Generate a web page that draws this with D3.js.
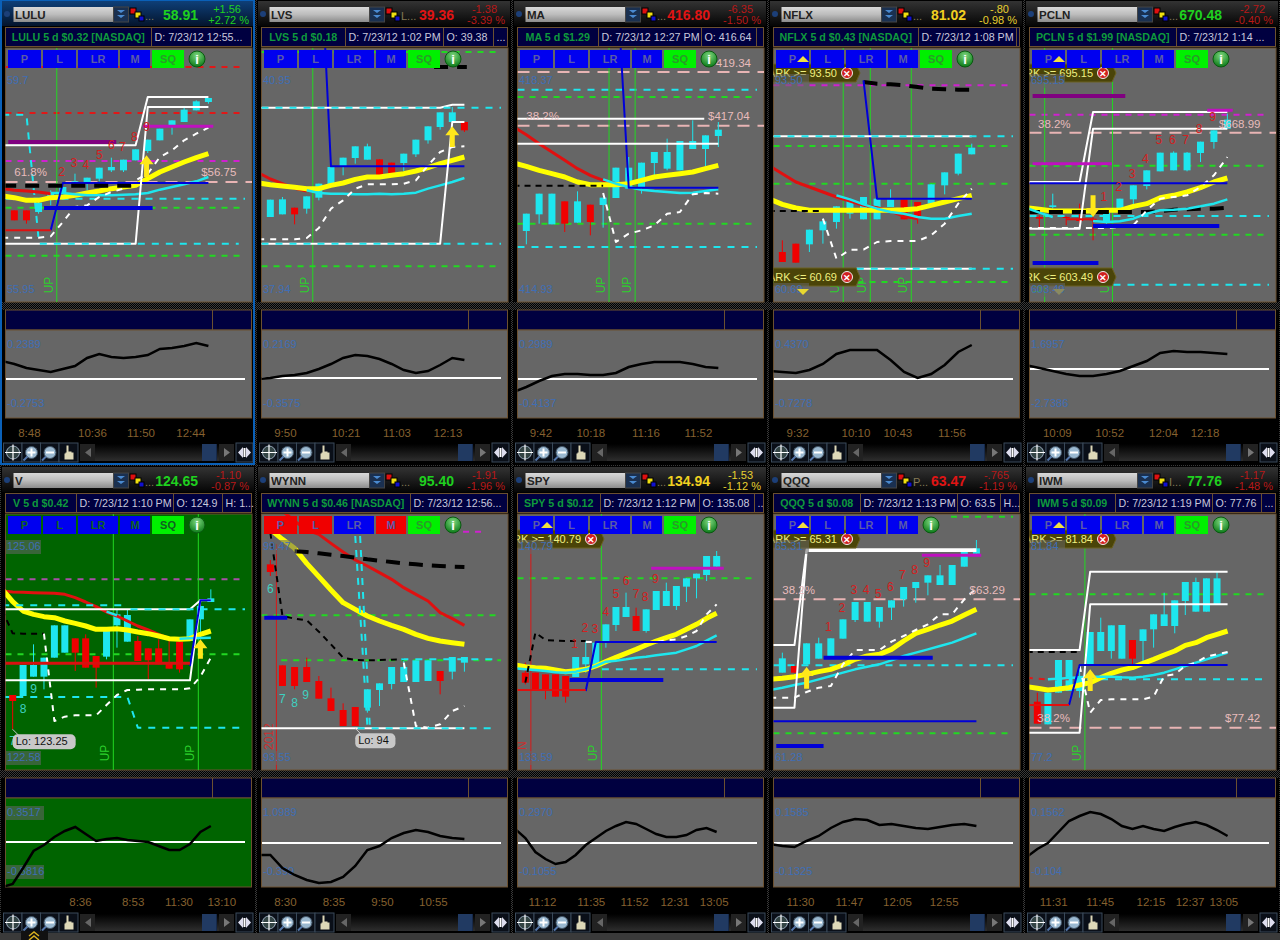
<!DOCTYPE html>
<html><head><meta charset="utf-8">
<script src="https://cdn.jsdelivr.net/npm/d3@7"></script>
<style>html,body{margin:0;padding:0;background:#000;overflow:hidden}svg{display:block;font-family:"Liberation Sans",Arial,sans-serif}</style>
</head><body><div id="c"></div>
<script>
// ---------- header data ----------
const tickers=['LULU','LVS','MA','NFLX','PCLN','V','WYNN','SPY','QQQ','IWM'];
const lastPrices=['58.91','39.36','416.80','81.02','670.48','124.65','95.40','134.94','63.47','77.76'];
const priceTone=['up','down','down','flat','up','up','up','flat','down','up'];
const changeAbs=['+1.56','-1.38','-6.35','-.80','-2.72','-1.10','-1.91','-1.53','-.765','-1.17'];
const changePct=['+2.72 %','-3.39 %','-1.50 %','-0.98 %','-0.40 %','-0.87 %','-1.96 %','-1.12 %','-1.19 %','-1.48 %'];
const changeTone=['up','down','down','flat','down','down','down','flat','down','down'];
const exchLabel=['...','L...','...','...','...','...','...','...','P...','I...'];
const titles=['LULU 5 d $0.32 [NASDAQ]','LVS 5 d $0.18','MA 5 d $1.29','NFLX 5 d $0.43 [NASDAQ]','PCLN 5 d $1.99 [NASDAQ]','V 5 d $0.42','WYNN 5 d $0.46 [NASDAQ]','SPY 5 d $0.12','QQQ 5 d $0.08','IWM 5 d $0.09'];
const infoCells=[['D: 7/23/12 12:55...'],['D: 7/23/12 1:02 PM','O: 39.38','...'],['D: 7/23/12 12:27 PM','O: 416.64',''],['D: 7/23/12 1:08 PM'],['D: 7/23/12 1:14 ...'],['D: 7/23/12 1:10 PM','O: 124.9','H: 1...'],['D: 7/23/12 12:56...'],['D: 7/23/12 1:12 PM','O: 135.08','..'],['D: 7/23/12 1:13 PM','O: 63.5','H...'],['D: 7/23/12 1:19 PM','O: 77.76','...']];
const axisTopLabels=['59.7','40.95','418.37','93.50','695.15','125.06','99.47','140.79','65.31','81.84'];
const axisBottomLabels=['55.95','37.94','414.93','60.69','603.49','122.58','93.55','133.59','61.28','77.2'];
const oscTopLabels=['0.2389','0.2169','0.2989','0.4370','1.6957','0.3517','1.0989','0.2970','0.1585','0.1562'];
const oscBottomLabels=['-0.2753','-0.3575','-0.4137','-0.7278','-2.7386','-0.5816','-0.399','-0.1055','-0.1325','-0.104'];

// ---------- time tick labels, at the bar index where each one sits ----------
const timeLabels=[['8:48','10:36','11:50','12:44'],['9:50','10:21','11:03','12:13'],['9:42','10:18','11:16','11:52'],['9:32','10:10','10:43','11:56'],['10:09','10:52','12:04','12:18'],['8:36','8:53','11:30','13:10'],['8:30','8:35','9:50','10:55'],['11:12','11:35','11:52','12:31','13:05'],['11:30','11:47','12:05','12:55'],['11:31','11:45','12:15','12:37','13:05']];
const timeBars=[[2.2,7.4,11.4,15.5],[2.2,7.2,11.4,15.6],[2.1,6,10.3,14.4],[2.1,6.4,9.5,13.5],[2.3,6.2,10.2,13.3],[7.45,12.5,16.9,21],[2.2,6.2,10.2,14.4],[2.65,7.5,11.8,15.8,19.7],[2.45,6.5,10.45,14.3],[2.5,6.9,11.7,15.4,18.6]];

// ---------- series. Prices are on each panel's own relative scale (0 = bottom of chart, 760 = top),
// read from the picture. Candles are [open,high,low,close] from bar 1; line arrays run per bar from bar 0.
const lulu_candles=[[275,275,245,245],[275,275,235,245],[270,300,265,298],[315,335,290,330],[330,345,330,345],[358,385,355,362],[357,373,335,373],[370,403,362,403],[395,433,390,405],[395,427,390,427],[425,458,425,458],[453,487,447,487],[485,520,485,520],[530,545,502,545],[540,583,540,577],[575,605,575,602],[600,612,595,612]];
const lulu_yellow=[318,313,305,305,313,315,320,327,333,340,345,350,370,390,405,420,433,445];
const lulu_cyan=[null,null,null,null,327,327,323,320,320,320,322,323,327,337,345,353,362,375];
const lulu_red=[340,335,333,330,325];
const lulu_trail=[193,193,193,193,197,240,285,290,315,330,340,365,385,435,455,485,505,523];
const lulu_cyanDash=[562,562,562,190];
const lulu_blue=[null,null,null,null,215,357,357,357,357,357,357,357,357,357,357,357,357,357];
const lulu_whiteA=[470,470,470,470,470,470,470,470,470,470,470,470,615,615,615,615,615,615];
const lulu_whiteB=[175,175,175,175,175,175,175,175,175,175,175,175,585,585,585,585,585,585];
const lulu_osc=[57,54,50,48,46,49,52,60,64,61,60,61,63,69,70,72,75,72];
const lulu_levels=[['redDash',705],['redDash',567],['magDash',423],['pinkDash',360],['cyanDash',310],['greenDash',283],['greenDash',139]];
const lulu_bars=[['blackThick',349,0,11],['redLine',215,0,4],['purple',480,0.5,9.4],['magenta',527,11.6,17.4],['blueThick',282,3.45,12.4],['cyanDash',175,3.1,19.5]];
const lulu_counts=[['2',4.9,378],['3',5.9,405],['4',6.9,398],['5',8,428],['6',9,458],['7',9.9,453],['8',10.9,483],['9',11.9,513]];
const lulu_notes=[['61.8%',1,378],['$56.75',16.4,378]];

const lvs_candles=[[255,307,255,307],[263,315,263,308],[283,283,233,263],[280,317,265,317],[313,355,305,355],[353,405,353,405],[408,433,380,433],[432,467,415,467],[427,475,427,467],[428,428,380,380],[418,418,380,380],[417,445,393,445],[443,487,435,487],[485,527,475,527],[525,569,517,569],[540,585,520,569],[540,540,510,515]];
const lvs_yellow=[357,352,348,344,340,340,350,357,368,375,375,380,385,393,403,415,425,435];
const lvs_cyan=[null,null,null,null,335,327,325,325,323,323,325,323,325,328,340,350,360,372];
const lvs_red=[388,369,355,341,333];
const lvs_trail=[188,188,188,188,192,222,280,305,340,353,353,353,355,365,410,450,465,467];
const lvs_blue=[null,null,null,null,null,1154,407,407,407,407,407,407,407,407,407,407,407,407];
const lvs_whiteA=[583,583,583,583,583,583,583,583,583,583,583,583,583,583,583,583,592,592];
const lvs_whiteB=[175,175,175,175,175,175,175,175,175,175,175,175,175,175,175,175,540,540];
const lvs_osc=[39,40,42,43,45,49,54,60,63,62,59,54,48,45,47,53,60,58];
const lvs_levels=[['greenDash',750],['greenDash',107]];
const lvs_bars=[['cyanDash',583],['cyanDash',175],['blackThick',705,14.5,17.2]];

const ma_candles=[[213,265,173,265],[263,325,235,325],[233,325,233,325],[302,302,210,235],[238,332,238,302],[292,292,200,240],[291,313,223,313],[312,403,312,403],[340,435,340,403],[345,418,325,418],[417,450,375,450],[400,490,395,450],[395,483,395,483],[459,545,459,483],[459,500,407,500],[498,540,465,517]];
const ma_yellow=[417,407,395,385,375,360,352,352,352,355,365,375,380,385,390,400,410];
const ma_cyan=[null,null,null,null,null,null,null,368,355,345,337,333,330,327,328,333,338];
const ma_red=[525,502,475,450,425,400,380,365,355,347];
const ma_trail=[null,null,null,null,null,null,null,327,180,205,215,230,265,270,323,327,325];
const ma_blue=[null,null,null,null,null,null,null,null,1010,343,343,343,343,343,343,343,343];
const ma_osc=[26,31,37,42,44,44,43,43,45,51,54,56,56,56,54,51,50];
const ma_levels=[['pinkDash',690],['pinkDash',529],['cyanDash',637],['greenDash',615],['greenDash',235],['cyanDash',165]];
const ma_bars=[['white',550,0,14.9],['white',475,0,16],['blackDash',349,0,7]];
const ma_notes=[['38.2%',1,545],['$417.04',15.2,545],['419.34',15.8,705]];

const nflx_candles=[[150,185,120,120],[175,175,118,118],[173,217,150,217],[215,250,175,242],[240,287,220,287],[265,305,250,305],[248,315,248,315],[248,310,248,310],[285,338,285,308],[308,308,248,248],[300,300,235,255],[295,353,295,353],[350,389,323,389],[385,445,380,445],[443,475,443,463]];
const nflx_yellow=[310,293,282,275,275,275,275,275,275,275,277,280,290,300,310,320];
const nflx_cyan=[null,null,null,null,null,320,308,293,280,270,265,255,250,250,258,265];
const nflx_red=[410,385,360,345,330,315,303,290,283,273,257,250];
const nflx_trail=[null,null,null,null,250,130,157,157,180,183,183,183,200,235,295,340];
const nflx_blackT=[null,null,null,null,null,null,null,660,655,653,650,645,640,638,637,637];
const nflx_blue=[null,null,null,null,null,null,null,665,310,310,310,310,310,310,310,310];
const nflx_osc=[47,46,45,48,54,64,68,68,68,58,46,40,44,53,66,73];
const nflx_levels=[['magDash',650],['greenDash',468],['greenDash',355],['greenDash',60]];
const nflx_bars=[['white',497,0,15],['cyanDash',497],['white',100,6.5,15],['cyanDash',100,6.5],['blackDash',273,0,4]];

const pcln_candles=[[255,260,225,250],[285,325,280,290],[255,257,230,252],[250,295,235,243],[250,255,185,245],[238,268,235,268],[275,310,268,310],[308,350,293,350],[348,395,338,395],[392,448,392,448],[395,452,395,448],[395,450,392,448],[447,481,420,481],[480,515,460,515],[520,565,520,547]];
const pcln_yellow=[283,278,273,273,273,273,275,275,287,295,313,320,330,343,360,372];
const pcln_cyan=[283,268,255,null,null,243,240,242,250,265,275,277,280,287,295,308];
const pcln_blackT=[270,270,270,270,270,270,270,270,270,270,272,277,278,280,280,283];
const pcln_trail=[222,222,222,222,222,222,222,225,230,275,310,315,320,345,380,435];
const pcln_whiteA=[360,360,360,360,360,570,570,570,570,570,570,570,570,570,570,570];
const pcln_whiteB=[220,220,220,220,220,520,520,520,520,520,520,520,520,520,520,520];
const pcln_osc=[53,50,47,44,42,42,44,47,52,57,65,67,66,66,65,64];
const pcln_levels=[['magDash',562],['pinkDash',508],['greenDash',409],['greenDash',202],['cyanDash',258],['cyanDash',52]];
const pcln_bars=[['blue',356,0,15],['blueThick',228,5,14.4],['blueThick',117,0.5,5.4],['purple',618,0.5,7.4],['magenta',415,0.5,6.4],['magenta',575,13.5,15.4],['redLine',248,3,5]];
const pcln_counts=[['1',5.8,303],['2',6.9,333],['3',7.9,373],['4',8.9,418],['5',9.9,473],['6',10.9,475],['7',11.9,473],['8',12.9,508],['9',13.9,543]];
const pcln_notes=[['38.2%',0.9,523],['$668.99',14.37,523]];

const v_candles=[[225,225,122,207],[222,315,222,315],[280,377,280,315],[280,337,242,337],[337,434,337,434],[352,434,352,434],[395,395,297,352],[395,407,307,307],[342,342,247,307],[340,417,332,417],[434,480,367,467],[385,480,385,465],[387,402,327,327],[365,365,272,329],[365,392,317,317],[322,387,304,304],[385,385,292,302],[387,452,387,452],[452,492,412,492],[504,542,504,515]];
const v_yellow=[542,505,477,467,460,457,447,440,432,422,422,424,420,414,409,402,394,392,394,407,417];
const v_cyan=[null,null,null,null,null,null,null,null,null,null,475,464,null,null,null,null,null,394,395,396,397];
const v_red=[537,534,533,532,531,530,527,517,504,490,474,462,447,432,420,407,395,390];
const v_blackDash=[480,410,409,409,409];
const v_trail=[null,null,null,null,409,147,160,164,164,164,195,225,240,241,242,242,242,242,245,280,337];
const v_cyanDash=[219,219,219,219,219,219,219,219,219,219,219,219,219,127,127,127,127,127,127,127,127,127,127,127];
const v_blue=[null,null,null,null,null,null,null,null,null,null,null,null,null,null,null,null,null,null,312,509,509];
const v_whiteA=[482,482,482,482,482,482,482,482,482,482,482,482,482,482,482,482,482,482,482,509,509];
const v_whiteB=[269,269,269,269,269,269,269,269,269,269,269,269,269,269,269,269,269,269,269,510,510];
const v_osc=[0,3,19,36,42,50,56,60,53,46,48,49,47,46,45,41,37,37,43,55,61];
const v_levels=[['dullMag',572],['greenDash',347]];
const v_bars=[['redDeep',320,0,18],['cyanDash',494,0,12],['cyanDash',482,12.3]];
const v_counts=[['9',3,230],['8',2,170],['7',1,75]];

const wynn_candles=[[617,630,582,594],[314,314,252,252],[309,309,242,252],[309,337,264,264],[267,282,214,214],[215,247,177,177],[180,200,132,132],[189,189,132,132],[187,242,172,242],[240,260,192,260],[258,309,242,309],[264,327,264,309],[264,329,264,329],[267,329,267,329],[297,297,227,267],[295,339,272,339],[322,339,295,339]];
const wynn_yellow=[null,722,692,665,620,580,540,502,482,462,447,434,422,407,395,387,382,377];
const wynn_red=[null,null,777,747,720,707,680,654,630,612,592,572,547,527,507,472,454,434];
const wynn_blackT=[null,null,null,656,654,650,646,642,637,632,628,624,620,617,614,612,610,609];
const wynn_blackDash=[null,712,462,454,449,415,377,337,330,329,330,331,332];
const wynn_trail=[null,null,null,null,null,null,null,null,null,null,null,null,322,132,127,137,177,192];
const wynn_levels=[['greenDash',464],['greenDash',329,1.9],['magDash',715,15.9,18.6]];
const wynn_bars=[['white',125,0,17],['cyanDash',125,8.2,19.7],['cyanDash',332,11.8,19.6],['blueThick',457,0.5,2.4]];
const wynn_slants=[['cyanDash',8,702,9,132],['cyanDash',8.4,702,9.2,132]];
const wynn_counts=[['6',1,530],['7',2,202],['8',3,190],['9',3.9,212]];
const wynn_osc=[32,32,19,12,7,4,5,10,21,37,41,49,54,57,55,51,49,48];

const spy_candles=[[292,322,257,262],[292,292,237,237],[287,287,212,237],[287,287,220,220],[282,282,202,220],[279,339,279,339],[317,390,292,339],[317,382,317,382],[385,437,367,437],[435,489,417,489],[459,532,459,489],[462,487,417,417],[417,482,412,482],[480,537,480,537],[492,562,492,537],[492,552,480,552],[550,575,504,575],[575,589,515,589],[585,642,567,642],[610,657,610,642]];
const spy_yellow=[315,310,307,305,300,295,298,302,312,325,338,350,362,375,387,397,407,422,437,455,470];
const spy_cyan=[305,302,300,297,293,292,295,302,312,325,328,332,337,340,344,348,352,362,372,388,404];
const spy_blackDash=[null,262,412,390,388,387,387,387];
const spy_trail=[null,null,null,null,null,null,null,384,384,384,384,384,384,384,384,389,392,402,417,467,497];
const spy_blue=[null,null,null,null,null,null,null,237,384,384,384,384,384,384,384,384,384,384,384,384,384];
const spy_osc=[58,49,35,28,23,25,32,42,49,56,61,65,63,58,53,50,50,52,57,59,55];
const spy_levels=[['greenDash',575],['cyanDash',302,8.6]];
const spy_bars=[['redLine',240,0,7],['blueThick',270,5.4,14.7],['magenta',605,13.5,20.7]];
const spy_counts=[['1',5.9,365],['2',6.9,413],['3',7.9,410],['4',9,462],['5',10,515],['6',11,555],['7',12,515],['8',12.9,508],['9',13.9,560]];

const qqq_candles=[[292,352,292,335],[312,312,292,292],[317,380,317,380],[334,397,334,380],[342,395,342,395],[394,452,394,452],[450,504,444,504],[445,504,445,504],[445,489,427,489],[487,509,450,509],[512,549,490,549],[546,564,502,564],[562,584,524,584],[555,615,555,584],[555,615,555,615],[610,657,610,657],[649,690,649,665]];
const qqq_yellow=[272,275,280,287,295,302,315,332,342,347,362,387,410,422,435,447,465,482];
const qqq_cyan=[240,247,255,262,272,282,292,302,310,317,329,342,352,362,372,382,396,410];
const qqq_trail=[217,217,217,234,247,252,317,360,360,360,385,402,420,437,467,467,512,545];
const qqq_whiteA=[375,375,375,662,662,662,662,662,662,662,662,662,662,662,662,662,662,662];
const qqq_whiteB=[187,187,187,657,657,657,657,657,657,657,657,657,657,657,657,657,657,657];
const qqq_osc=[43,41,40,46,51,59,65,68,67,62,63,61,59,58,60,62,63,61];
const qqq_levels=[['pinkDash',512],['cyanDash',314],['greenDash',110],['greenDash',760,14.9]];
const qqq_bars=[['blueThick',337,4.4,13.4],['blue',146,0,17],['blueThick',72,0.5,4.4],['magenta',644,12.5,17.4]];
const qqq_counts=[['1',4.8,418],['2',5.9,475],['3',6.9,528],['4',7.9,528],['5',8.9,515],['6',9.9,537],['7',10.9,573],['8',11.9,588],['9',12.9,610]];
const qqq_notes=[['38.2%',1,527],['$63.29',16.44,527]];

const iwm_candles=[[205,232,139,139],[137,232,137,232],[232,330,232,330],[237,330,237,330],[237,312,217,282],[314,414,314,414],[357,457,357,414],[357,434,334,434],[334,435,334,435],[390,390,312,334],[387,422,324,422],[422,467,367,467],[432,532,432,467],[432,509,410,509],[507,564,465,564],[475,577,475,564],[475,575,475,575],[497,594,497,575]];
const iwm_yellow=[250,245,240,243,247,255,262,277,290,300,307,320,332,345,357,374,382,397,407,417];
const iwm_cyan=[null,null,272,274,276,278,280,280,280,278,277,280,285,292,302,312,322,332,342,352];
const iwm_redDash=[277,274,272,272,272];
const iwm_trail=[null,null,null,null,null,312,172,210,212,212,212,212,220,282,287,312,322,340,347,354];
const iwm_blue=[null,null,null,null,195,315,315,315,315,315,315,315,315,315,315,315,315,315,315,315];
const iwm_whiteA=[360,360,360,360,360,360,595,595,595,595,595,595,595,595,595,595,595,595,595,595];
const iwm_whiteB=[112,112,112,112,112,112,497,497,497,497,497,497,497,497,497,497,497,497,497,497];
const iwm_osc=[30,38,44,55,66,71,75,73,68,61,58,61,58,56,60,63,65,62,57,51];
const iwm_levels=[['greenDash',527],['cyanDash',272,5.7],['pinkDash',127]];
const iwm_bars=[['blackDash',354,0,5],['redLine',195,0,4]];
const iwm_notes=[['38.2%',1,143],['$77.42',18.76,143]];

// vertical signal lines (bar positions), "UP" flags and other markers
const lulu_signals=[4.5], lvs_signals=[4.5], ma_signals=[7.46,9.5], nflx_signals=[5.5,7.5,10.53], pcln_signals=[1.4,6.45], v_signals=[10.65,18.8], wynn_signals=[], spy_signals=[8.55], qqq_signals=[], iwm_signals=[5.5];
const upFlags=[[4.5],[4.5],[7.46,9.5],[5.5,7.5,10.53],[1.4,6.45],[10.65,18.8],[],[8.55],[],[5.5]];
const redSignals=[[],[],[],[],[],[],[1.5],[1.55],[],[]];
const dateFlags=[null,null,null,null,null,null,['2012',0.92],['N',0.67],null,null];
const arrows=[[[11.9,440,375]],[[16,527,465]],[],[],[[5,255,320]],[[19,392,334]],[],[],[[3,309,244]],[[6,302,237]]];
const tagTexts=[[],[],[],['MARK >= 93.50','MARK <= 60.69'],['MARK >= 695.15','MARK <= 603.49'],[],[],['MARK >= 140.79'],['MARK >= 65.31'],['MARK >= 81.84']];
const lowNotes=[null,null,null,null,null,['Lo: 123.25',1,122],['Lo: 94',8,125],null,null,null];
const buttonLabels=['P','L','LR','M','SQ'];
const buttonStates=[['b','b','b','b','g'],['b','b','b','b','g'],['b','b','b','b','g'],['b','b','b','b','g'],['b','b','b','b','g'],['b','b','b','b','g'],['r','r','b','r','g'],['b','b','b','b','g'],['b','b','b','b',null],['b','b','b','b','g']];

// ---------- styles and layout ----------
const STY={yellow:{c:'#ffff00',w:5},cyan:{c:'#1ee6ee',w:2.5},red:{c:'#e01010',w:3},redDeep:{c:'#d81010',w:3},white:{c:'#ffffff',w:2},
 whiteDash:{c:'#ffffff',w:2,d:'6,6'},blackDash:{c:'#000',w:2,d:'6,5'},blackThick:{c:'#000',w:4,d:'14,9'},cyanDash:{c:'#1ee6ee',w:2,d:'7,7'},
 greenDash:{c:'#22d822',w:2,d:'6,6'},redDash:{c:'#e01818',w:2,d:'6,6'},magDash:{c:'#d020d0',w:2,d:'6,6'},dullMag:{c:'#a850a8',w:2,d:'6,6'},pinkDash:{c:'#e8b4b4',w:2,d:'12,8'},
 blue:{c:'#0000d8',w:2},blueThick:{c:'#0000d8',w:4},purple:{c:'#800080',w:4},magenta:{c:'#c010c0',w:3},redLine:{c:'#e01010',w:2}};
const columnX=[0,256,512,768,1024];
const ROWS=[{top:0,plotTop:48,plotBot:302,subTop:310,subPlot:330,subBot:418,timeY:426,tool:443},
            {top:466,plotTop:514,plotBot:770,subTop:778,subPlot:798,subBot:887,timeY:895,tool:913}];
const barLayout=[[14.33,12.13],[14.33,12.13],[14.33,12.8],[14.33,13.53],[15.33,13.43],[12.67,10.43],[14.33,12.13],[13.33,10.07],[14.33,12.13],[13.33,10.57]];
const cellDividers=[[151],[89,187,237],[86,189,244],[150,248],[152],[76,173,222],[154],[88,187,242],[92,189,232],[91,188,237]];
const panels=[
 {candles:lulu_candles,levels:lulu_levels,bars:lulu_bars,osc:lulu_osc,oscBase:39,counts:lulu_counts,notes:lulu_notes,signals:lulu_signals,
  lines:[['cyanDash',lulu_cyanDash],['red',lulu_red],['yellow',lulu_yellow],['cyan',lulu_cyan],['whiteDash',lulu_trail],['blue',lulu_blue],['white',lulu_whiteA],['white',lulu_whiteB]]},
 {candles:lvs_candles,levels:lvs_levels,bars:lvs_bars,osc:lvs_osc,oscBase:40,signals:lvs_signals,
  lines:[['red',lvs_red],['yellow',lvs_yellow],['cyan',lvs_cyan],['whiteDash',lvs_trail],['blue',lvs_blue],['white',lvs_whiteA],['white',lvs_whiteB]]},
 {candles:ma_candles,levels:ma_levels,bars:ma_bars,osc:ma_osc,oscBase:39,notes:ma_notes,signals:ma_signals,
  lines:[['red',ma_red],['yellow',ma_yellow],['cyan',ma_cyan],['whiteDash',ma_trail],['blue',ma_blue]]},
 {candles:nflx_candles,levels:nflx_levels,bars:nflx_bars,osc:nflx_osc,oscBase:39,signals:nflx_signals,
  lines:[['red',nflx_red],['yellow',nflx_yellow],['cyan',nflx_cyan],['whiteDash',nflx_trail],['blackThick',nflx_blackT],['blue',nflx_blue]]},
 {candles:pcln_candles,levels:pcln_levels,bars:pcln_bars,osc:pcln_osc,oscBase:49,counts:pcln_counts,notes:pcln_notes,signals:pcln_signals,
  lines:[['yellow',pcln_yellow],['blackThick',pcln_blackT],['cyan',pcln_cyan],['whiteDash',pcln_trail],['white',pcln_whiteA],['white',pcln_whiteB]]},
 {candles:v_candles,levels:v_levels,bars:v_bars,osc:v_osc,oscBase:45,counts:v_counts,signals:v_signals,bg:'#006400',
  lines:[['cyanDash',v_cyanDash],['red',v_red],['yellow',v_yellow],['cyan',v_cyan],['blackDash',v_blackDash],['whiteDash',v_trail],['white',v_whiteA],['white',v_whiteB],['blue',v_blue]]},
 {candles:wynn_candles,levels:wynn_levels,bars:wynn_bars,osc:wynn_osc,oscBase:44,counts:wynn_counts,signals:wynn_signals,slants:wynn_slants,
  lines:[['yellow',wynn_yellow],['red',wynn_red],['blackThick',wynn_blackT],['blackDash',wynn_blackDash],['whiteDash',wynn_trail]]},
 {candles:spy_candles,levels:spy_levels,bars:spy_bars,osc:spy_osc,oscBase:44,counts:spy_counts,signals:spy_signals,
  lines:[['yellow',spy_yellow],['cyan',spy_cyan],['blackDash',spy_blackDash],['whiteDash',spy_trail],['blue',spy_blue]]},
 {candles:qqq_candles,levels:qqq_levels,bars:qqq_bars,osc:qqq_osc,oscBase:44,counts:qqq_counts,notes:qqq_notes,signals:qqq_signals,
  lines:[['yellow',qqq_yellow],['cyan',qqq_cyan],['whiteDash',qqq_trail],['white',qqq_whiteA],['white',qqq_whiteB]]},
 {candles:iwm_candles,levels:iwm_levels,bars:iwm_bars,osc:iwm_osc,oscBase:44,notes:iwm_notes,signals:iwm_signals,
  lines:[['redDash',iwm_redDash],['yellow',iwm_yellow],['cyan',iwm_cyan],['whiteDash',iwm_trail],['white',iwm_whiteA],['white',iwm_whiteB],['blue',iwm_blue]]}
];
const TONE={up:'#1fd01f',down:'#e01414',flat:'#f0d020'};
const CHG={up:'#1fd01f',down:'#b81818',flat:'#e8d030'};

const svg=d3.select('#c').append('svg').attr('width',1280).attr('height',940);
const defs=svg.append('defs');
const hatch=defs.append('pattern').attr('id','hatch').attr('width',2).attr('height',2).attr('patternUnits','userSpaceOnUse');
hatch.append('rect').attr('width',2).attr('height',2).attr('fill','#000');
hatch.append('rect').attr('width',1).attr('height',1).attr('fill','#3a3a3a');
hatch.append('rect').attr('x',1).attr('y',1).attr('width',1).attr('height',1).attr('fill','#3a3a3a');
function vgrad(id,stops){const g=defs.append('linearGradient').attr('id',id).attr('x1',0).attr('y1',0).attr('x2',0).attr('y2',1);
 stops.forEach(s=>g.append('stop').attr('offset',s[0]).attr('stop-color',s[1]));}
vgrad('combo',[[0,'#d8d8d8'],[0.5,'#bcbcbc'],[1,'#8c8c8c']]);
vgrad('top',[[0,'#333'],[1,'#050505']]);
vgrad('topSel',[[0,'#0e3f78'],[1,'#04142c']]);
vgrad('scroll',[[0,'#000'],[1,'#2e2e2e']]);
const rg=defs.append('radialGradient').attr('id','info').attr('cx','50%').attr('cy','30%').attr('r','70%');
rg.append('stop').attr('offset',0).attr('stop-color','#7fd87f');rg.append('stop').attr('offset',1).attr('stop-color','#0b7a18');

svg.append('rect').attr('width',1280).attr('height',940).attr('fill','url(#hatch)');

function text(g,x,y,s,o={}){return g.append('text').attr('x',x).attr('y',y).text(s).attr('fill',o.fill||'#fff')
 .attr('font-size',o.size||11).attr('font-weight',o.bold?'bold':'normal').attr('text-anchor',o.anchor||'start');}
function rect(g,x,y,w,h,f,o={}){return g.append('rect').attr('x',x).attr('y',y).attr('width',w).attr('height',h).attr('fill',f)
 .attr('stroke',o.stroke||'none').attr('stroke-width',o.sw||1).attr('opacity',o.op==null?1:o.op).attr('rx',o.rx||0);}

tickers.forEach((tk,i)=>{
 const P=panels[i],R=ROWS[i<5?0:1],X=columnX[i%5];
 const g=svg.append('g').attr('transform',`translate(${X},0)`);
 const sel=i===0;
 rect(g,1,R.top,254,R.tool+22-R.top,'#000');
 rect(g,1,R.plotBot,254,R.subTop-R.plotBot,'url(#hatch)');
 // ticker bar
 rect(g,2,R.top+1,252,25,sel?'url(#topSel)':'url(#top)');
 g.append('circle').attr('cx',7).attr('cy',R.top+14).attr('r',3).attr('fill','#1c3f78');
 rect(g,13.5,R.top+7,100,15,'url(#combo)');
 text(g,15,R.top+19,tk,{size:11.5,bold:true,fill:'#222'});
 rect(g,113.5,R.top+7,15,15,'#1a3050',{stroke:'#444'});
 g.append('path').attr('d',`M117,${R.top+10}h8l-4,3zM117,${R.top+15}h8l-4,3z`).attr('fill','#4a8ad0');
 rect(g,130,R.top+8,6,6,'#e01010',{stroke:'#000'});rect(g,135,R.top+12,6,6,'#f0e010',{stroke:'#000'});rect(g,139,R.top+16,5,5,'#1010d0',{stroke:'#000'});
 text(g,145,R.top+20,exchLabel[i],{fill:'#857a55',size:11});
 text(g,198,R.top+20,lastPrices[i],{fill:TONE[priceTone[i]],size:14,bold:true,anchor:'end'});
 text(g,241,R.top+13,changeAbs[i],{fill:CHG[changeTone[i]],anchor:'end',size:11});
 text(g,249,R.top+24,changePct[i],{fill:CHG[changeTone[i]],anchor:'end',size:11});
 // info cells
 rect(g,5.5,R.top+27.5,246,19,'#000040',{stroke:'#6b5030'});
 const div=cellDividers[i];
 text(g,(5.5+div[0])/2,R.top+41,titles[i],{fill:'#0f9a3c',bold:true,size:10.7,anchor:'middle'});
 div.forEach((d,k)=>{g.append('line').attr('x1',d+.5).attr('x2',d+.5).attr('y1',R.top+28).attr('y2',R.top+46).attr('stroke','#6b5030');
  if(infoCells[i][k]) text(g,d+3.5,R.top+41,infoCells[i][k],{fill:'#c8c8dc',size:10.7});});
 // plot
 const clipId='clip'+i;
 defs.append('clipPath').attr('id',clipId).append('rect').attr('x',5.5).attr('y',R.plotTop).attr('width',246.5).attr('height',R.plotBot-R.plotTop);
 rect(g,5.5,R.plotTop,246.5,R.plotBot-R.plotTop,P.bg||'#666666',{stroke:'#6b5030'});
 const pg=g.append('g').attr('clip-path',`url(#${clipId})`);
 const x=d3.scaleLinear().domain([1,2]).range([barLayout[i][0],barLayout[i][0]+barLayout[i][1]]);
 const y=d3.scaleLinear().domain([0,760]).range([R.plotBot,R.plotBot-253.33]);
 const hline=(l)=>{const s=STY[l[0]],x0=l[2]==null?5.5:x(l[2]),x1=l[3]==null?(l[0]==='pinkDash'?252:245):x(l[3]);
  pg.append('line').attr('x1',x0).attr('x2',x1).attr('y1',y(l[1])).attr('y2',y(l[1])).attr('stroke',s.c).attr('stroke-width',s.w).attr('stroke-dasharray',s.d||null);};
 P.levels.forEach(hline);
 P.signals.forEach(b=>pg.append('line').attr('x1',x(b)).attr('x2',x(b)).attr('y1',R.plotTop).attr('y2',R.plotBot).attr('stroke','#22d822').attr('stroke-width',1));
 redSignals[i].forEach(b=>pg.append('line').attr('x1',x(b)).attr('x2',x(b)).attr('y1',R.plotTop+30).attr('y2',R.plotBot).attr('stroke','#d81818').attr('stroke-width',1));
 upFlags[i].forEach(b=>{const t=text(pg,0,0,'UP',{fill:'#2cd02c',size:12,anchor:'middle'});t.attr('transform',`translate(${x(b)-4},${R.plotBot-17}) rotate(-90)`);});
 if(dateFlags[i]){const t=text(pg,0,0,dateFlags[i][0],{fill:'#c83030',size:12,anchor:'start'});t.attr('transform',`translate(${x(dateFlags[i][1])+4},${R.plotBot-20}) rotate(-90)`);}
 // candles
 const cg=pg.selectAll('g.c').data(P.candles).join('g').attr('class','c');
 const bodyW=7;
 cg.append('line').attr('x1',(d,k)=>x(k+1)).attr('x2',(d,k)=>x(k+1)).attr('y1',d=>y(d[1])).attr('y2',d=>y(d[2]))
  .attr('stroke',d=>d[3]>=d[0]?'#1ee6ee':'#f00000').attr('stroke-width',1);
 cg.append('rect').attr('x',(d,k)=>x(k+1)-bodyW/2).attr('width',bodyW).attr('y',d=>y(Math.max(d[0],d[3]))).attr('height',d=>Math.max(1,Math.abs(y(d[0])-y(d[3]))))
  .attr('fill',d=>d[3]>=d[0]?'#1ee6ee':'#f00000');
 // lines
 const line=d3.line().defined(d=>d!=null).x((d,k)=>x(k)).y(d=>y(d));
 P.lines.forEach(([st,arr])=>{const s=STY[st];
  pg.append('path').attr('d',line(arr)).attr('fill','none').attr('stroke',s.c).attr('stroke-width',s.w).attr('stroke-dasharray',s.d||null).attr('stroke-linejoin','round');});
 P.bars.forEach(hline);
 (P.slants||[]).forEach(l=>{const s=STY[l[0]];pg.append('line').attr('x1',x(l[1])).attr('y1',y(l[2])).attr('x2',x(l[3])).attr('y2',y(l[4])).attr('stroke',s.c).attr('stroke-width',s.w).attr('stroke-dasharray',s.d);});
 // arrows
 arrows[i].forEach(([b,tip,base])=>{const dir=base<tip?1:-1,xx=x(b),yt=y(tip),yb=y(base);
  const hd=yt+dir*9;
  pg.append('path').attr('d',`M${xx},${yt}L${xx+7},${hd}L${xx+2.5},${hd}L${xx+2.5},${yb}L${xx-2.5},${yb}L${xx-2.5},${hd}L${xx-7},${hd}Z`).attr('fill','#ffe81a');});
 // counts and notes
 const countFill=(i===5||i===6)?'#3fd0c0':'#d42020';
 (P.counts||[]).forEach(c=>text(pg,x(c[1]),y(c[2]),c[0],{fill:countFill,size:12,anchor:'middle'}));
 (P.notes||[]).forEach(c=>text(pg,x(c[1]),y(c[2]),c[0],{fill:'#e8bcbc',size:11.5}));
 // tags
 tagTexts[i].forEach(t=>{const cy=R.top+(t.includes('<=')?277:73);
  pg.append('path').attr('d',`M0,${cy-9}H88L92,${cy}L88,${cy+9}H0Z`).attr('fill','#4a4408').attr('stroke','#6a6020');
  text(pg,69,cy+4,t,{fill:'#f0f080',size:11,anchor:'end'});
  pg.append('circle').attr('cx',79).attr('cy',cy).attr('r',5.5).attr('fill','#d02020').attr('stroke','#eee');
  text(pg,79,cy+3.5,'✕',{fill:'#fff',size:9,anchor:'middle',bold:true});});
 // axis labels
 const alab=(yy,s)=>{rect(pg,6,yy-10,35,14,'#666',{op:.55});text(pg,7,yy,s,{fill:'#3f6eb5',size:11});};
 alab(R.top+84,axisTopLabels[i]);alab(R.plotBot-9,axisBottomLabels[i]);
 // low note
 if(lowNotes[i]){const [t,b,lv]=lowNotes[i],xx=x(b),yy=y(lv);
  pg.append('line').attr('x1',xx).attr('x2',xx+6).attr('y1',yy).attr('y2',yy+6).attr('stroke','#ccc');
  const w=t.length*5.7+6;
  rect(pg,xx,yy+5,w,15,'#c8c8c8',{rx:5});text(pg,xx+3,yy+16,t,{fill:'#111',size:11});}
 // buttons
 const bx=[[8,33],[43,33],[78,40],[120,30],[152,32]];
 buttonLabels.forEach((b,k)=>{const st=buttonStates[i][k];if(!st)return;
  rect(g,bx[k][0],R.plotTop+2,bx[k][1],18,st==='b'?'#0000f0':st==='r'?'#f00000':'#00f000');
  text(g,bx[k][0]+bx[k][1]/2,R.plotTop+15,b,{fill:i===5?'#106020':(st==='g'?'#2a9a2a':'#5a5aa8'),size:11,bold:true,anchor:'middle'});});
 const ix=buttonStates[i][4]?197:163;
 g.append('circle').attr('cx',ix).attr('cy',R.plotTop+11).attr('r',8).attr('fill','url(#info)').attr('stroke','#0a5a10');
 text(g,ix,R.plotTop+16,'i',{fill:'#fff',size:13,bold:true,anchor:'middle'});
 if(tagTexts[i].length){g.append('path').attr('d',`M29,${R.plotTop+14}l6,-6l6,6z`).attr('fill','#f0e040');}
 if(tagTexts[i].length===2){pg.append('path').attr('d',`M29,${R.plotBot-13}h12l-6,6z`).attr('fill',i===3?'#e8d830':'#8a8a60');}
 // oscillator
 rect(g,5.5,R.subTop,246,R.subPlot-R.subTop,'#000040',{stroke:'#6b5030'});
 g.append('line').attr('x1',212.5).attr('x2',212.5).attr('y1',R.subTop).attr('y2',R.subPlot).attr('stroke','#6b5030');
 rect(g,5.5,R.subPlot,246,R.subBot-R.subPlot,P.bg||'#666666',{stroke:'#6b5030'});
 const sy=d3.scaleLinear().domain([0,88]).range([R.subBot,R.subBot-88]);
 const sClip='sclip'+i;defs.append('clipPath').attr('id',sClip).append('rect').attr('x',5.5).attr('y',R.subPlot).attr('width',246.5).attr('height',R.subBot-R.subPlot);
 const sg=g.append('g').attr('clip-path',`url(#${sClip})`);
 const ol=(yy,s)=>{rect(sg,6,yy-10,38,14,'#666',{op:.55});text(sg,7,yy,s,{fill:'#3f6eb5',size:11});};
 ol(R.subPlot+18,oscTopLabels[i]);ol(R.subPlot+77,oscBottomLabels[i]);
 sg.append('line').attr('x1',6).attr('x2',245).attr('y1',sy(P.oscBase)).attr('y2',sy(P.oscBase)).attr('stroke','#fff').attr('stroke-width',2);
 sg.append('path').attr('d',d3.line().x((d,k)=>x(k)).y(d=>sy(d))(P.osc)).attr('fill','none').attr('stroke','#000').attr('stroke-width',2.5);
 // time axis
 const ax=d3.axisBottom(x).tickValues(timeBars[i]).tickSize(0).tickFormat((d,k)=>timeLabels[i][k]);
 const ag=g.append('g').attr('transform',`translate(0,${R.timeY})`).call(ax);
 ag.select('.domain').remove();
 ag.selectAll('text').attr('fill','#85602f').attr('font-size',11.5).attr('font-family','"Liberation Sans",Arial,sans-serif');
 // toolbar
 const T=R.tool;
 [3.5,22,40.5,59].forEach((bxx,k)=>{rect(g,bxx,T,k===3?19:18.5,19,'#0a0f18',{stroke:'#3a4a5a'});
  const cx=bxx+9.5,cy=T+9.5;
  if(k===0){g.append('circle').attr('cx',cx).attr('cy',cy).attr('r',6.5).attr('fill','#344').attr('stroke','#9ab');g.append('path').attr('d',`M${cx-8},${cy}h16M${cx},${cy-8}v16`).attr('stroke','#fff').attr('stroke-width',1.2);}
  if(k===1||k===2){g.append('circle').attr('cx',cx).attr('cy',cy).attr('r',6).attr('fill','#9ab8d0').attr('stroke','#456');g.append('path').attr('d',k===1?`M${cx-4},${cy}h8M${cx},${cy-4}v8`:`M${cx-4},${cy}h8`).attr('stroke','#fff').attr('stroke-width',2);
    g.append('path').attr('d',`M${cx-4},${cy+4}l-4,4`).attr('stroke','#57a').attr('stroke-width',2);}
  if(k===3){g.append('path').attr('d',`M${cx-4},${cy+7}v-6h1v-1h1v-7h2v6h3v1h2v7z`).attr('fill','#ddd8b8');}
 });
 rect(g,80,T+1,154,17,'url(#scroll)');
 rect(g,80,T+1,15,17,'#222');g.append('path').attr('d',`M91,${T+5}v9l-6,-4.5z`).attr('fill','#666');
 rect(g,202,T+1,15,17,'#16294a');for(let q=203;q<217;q+=2)g.append('line').attr('x1',q).attr('x2',q).attr('y1',T+1).attr('y2',T+18).attr('stroke','#2c4d7a');
 rect(g,219,T+1,15,17,'#222');g.append('path').attr('d',`M224,${T+5}v9l6,-4.5z`).attr('fill','#777');
 rect(g,236,T,17,19,'#0a0f18',{stroke:'#3a4a5a'});
 g.append('path').attr('d',`M243,${T+4}v11l-5,-5.5zM246,${T+4}v11l5,-5.5z`).attr('fill','#dde');
 g.append('rect').attr('x',243.5).attr('y',T+5).attr('width',2).attr('height',9).attr('fill','#fff');
 if(sel) rect(g,1,R.top,253,R.tool+21-R.top,'none',{stroke:'#0a60b8',sw:2});
});
// bottom strip and dock tab
rect(svg,0,933,1280,7,'#3a3a3a');
rect(svg,21,931,27,9,'#111');
svg.append('path').attr('d','M29,936l5,-4l5,4M29,940l5,-4l5,4').attr('fill','none').attr('stroke','#d8b020').attr('stroke-width',1.5);
</script></body></html>
